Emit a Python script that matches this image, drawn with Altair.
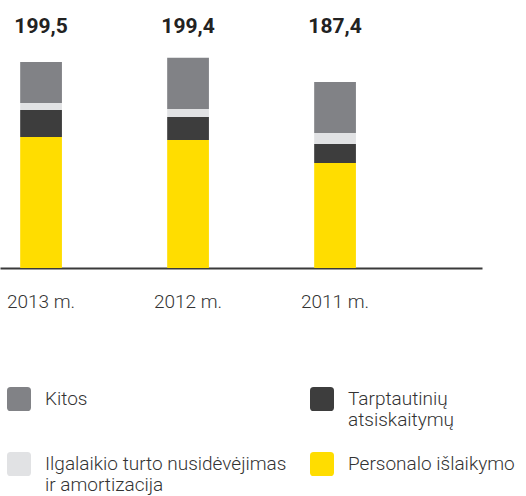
import altair as alt
import pandas as pd

years = ["2013 m.", "2012 m.", "2011 m."]
totals = ["199,5", "199,4", "187,4"]

# stacked from bottom to top
categories = [
    "Personalo išlaikymo",
    "Tarptautinių atsiskaitymų",
    "Ilgalaikio turto nusidėvėjimas ir amortizacija",
    "Kitos",
]
personalo = [132.0, 129.0, 105.8]
tarptautiniu = [27.2, 23.2, 19.1]
ilgalaikio = [7.1, 8.1, 11.1]
kitos = [41.3, 51.4, 51.4]

legend_order = [
    "Kitos",
    "Tarptautinių atsiskaitymų",
    "Ilgalaikio turto nusidėvėjimas ir amortizacija",
    "Personalo išlaikymo",
]
legend_colors = ["#818286", "#3D3D3D", "#E1E2E4", "#FFDD00"]

series = [personalo, tarptautiniu, ilgalaikio, kitos]
rows = []
for rank, (cat, vals) in enumerate(zip(categories, series)):
    for y, v in zip(years, vals):
        rows.append({"year": y, "category": cat, "value": v, "rank": rank})
df = pd.DataFrame(rows)
tot_df = pd.DataFrame({"year": years, "total": totals})

FONT = "Roboto"

xscale = alt.Scale(paddingInner=0.716, paddingOuter=0.4975, align=0.138)

rounded = ("M-1,-0.7 Q-1,-1 -0.7,-1 L0.7,-1 Q1,-1 1,-0.7 L1,0.7 Q1,1 0.7,1 "
           "L-0.7,1 Q-1,1 -1,0.7 Z")

label_expr = (
    "datum.label == 'Tarptautinių atsiskaitymų' ? ['Tarptautinių', 'atsiskaitymų'] : "
    "datum.label == 'Ilgalaikio turto nusidėvėjimas ir amortizacija' ? "
    "['Ilgalaikio turto nusidėvėjimas', 'ir amortizacija'] : [datum.label, ' ']"
)

bars = alt.Chart(df).mark_bar().encode(
    x=alt.X(
        "year:N",
        sort=years,
        scale=xscale,
        axis=alt.Axis(
            title=None,
            labelAngle=0,
            ticks=False,
            labelPadding=24,
            labelFontSize=19,
            labelFont=FONT,
            labelFontWeight=300,
            labelColor="#333333",
            domainColor="#3a3a3a",
            domainWidth=2,
            grid=False,
        ),
    ),
    y=alt.Y("value:Q", stack="zero", scale=alt.Scale(domain=[0, 270]), axis=None),
    color=alt.Color(
        "category:N",
        scale=alt.Scale(domain=legend_order, range=legend_colors),
        legend=alt.Legend(
            orient="none",
            direction="horizontal",
            legendX=7,
            legendY=387,
            columns=2,
            title=None,
            symbolType=rounded,
            symbolSize=576,
            symbolStrokeWidth=0,
            labelFont=FONT,
            labelFontSize=19,
            labelFontWeight=300,
            labelColor="#333333",
            labelOffset=14,
            labelLimit=400,
            columnPadding=23,
            rowPadding=22,
            labelExpr=label_expr,
        ),
    ),
    order=alt.Order("rank:Q"),
)

labels = alt.Chart(tot_df).mark_text(
    baseline="alphabetic",
    fontSize=21,
    fontWeight="bold",
    font=FONT,
    color="#222222",
).encode(
    x=alt.X("year:N", sort=years, scale=xscale),
    y=alt.value(33),
    text="total:N",
)

chart = alt.layer(bars, labels).properties(
    width=482,
    height=268,
    autosize=alt.AutoSizeParams(type="none"),
    padding={"left": 0, "top": 0, "right": 44, "bottom": 228},
    background="white",
).configure_view(stroke=None)

chart.save("out.html", embed_options={"renderer": "svg", "actions": False})
